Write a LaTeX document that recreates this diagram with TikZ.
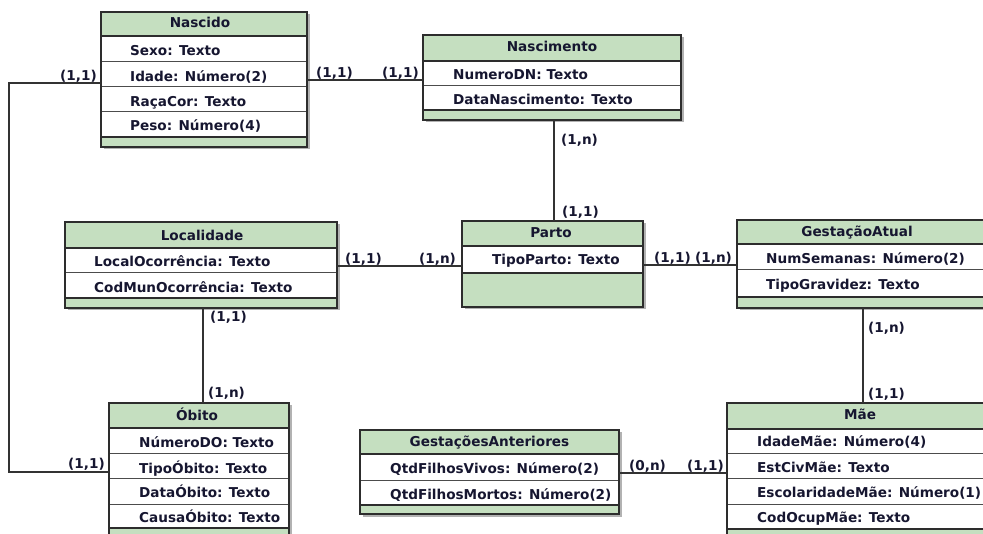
\documentclass[tikz,border=0pt]{standalone}
\usepackage{fontspec}
\setmainfont{DejaVu Sans}
\usetikzlibrary{shadows}
\definecolor{hdrgreen}{RGB}{197,223,192}
\definecolor{bordc}{RGB}{45,45,45}
\definecolor{txtc}{RGB}{22,22,48}
\definecolor{linec}{RGB}{50,50,50}
\newcommand\erbox[8]{%
  \node[entbg, anchor=north west, minimum width={#3-#2}, minimum height={#5-#4}] (#1) at (#2,#4) {};
  \fill[white] (#2,#6) rectangle (#3,#7);
  \foreach \yy in {#8} {\draw[septhin] (#2,\yy) -- (#3,\yy);}
  \draw[septhick] (#2,#6) -- (#3,#6);
  \draw[septhick] (#2,#7) -- (#3,#7);
  \draw[bord] (#1.north west) rectangle (#1.south east);
}
\begin{document}
\begin{tikzpicture}[x=1pt,y=-1pt,
  font=\fontsize{13.6}{16}\selectfont\bfseries,
  entbg/.style={fill=hdrgreen, draw=none, inner sep=0pt, outer sep=0pt,
    drop shadow={shadow xshift=2.5pt, shadow yshift=-2.5pt, fill=black, opacity=0.3}},
  bord/.style={draw=bordc, line width=1.4pt},
  septhick/.style={draw=bordc, line width=2.2pt},
  septhin/.style={draw=bordc!85, line width=1pt},
  hdrtext/.style={anchor=base, text=txtc, inner sep=0pt},
  attr/.style={anchor=base west, text=txtc, inner sep=0pt},
  card/.style={anchor=base west, text=txtc, inner sep=0pt},
  conn/.style={draw=linec, line width=1.1pt}]
\clip (0,0) rectangle (983,534);
\fill[white] (0,0) rectangle (983,534);

% Nascido
\erbox{nascido}{101}{307}{12}{147}{36}{137}{62,87,112}
\node[hdrtext] (nascido-h) at (200,28) {Nascido};
\node[attr] (nascido-1) at (130,56) {Sexo: Texto};
\node[attr] (nascido-2) at (130,82) {Idade: Número(2)};
\node[attr] (nascido-3) at (130,106.5) {RaçaCor: Texto};
\node[attr] (nascido-4) at (130,131) {Peso: Número(4)};

% Nascimento
\erbox{nascimento}{423}{681}{35}{120}{61}{110}{86}
\node[hdrtext] (nascimento-h) at (552,52) {Nascimento};
\node[attr] (nascimento-1) at (453,79.5) {NumeroDN: Texto};
\node[attr] (nascimento-2) at (453,104.5) {DataNascimento: Texto};

% Localidade
\erbox{localidade}{65}{337}{222}{308}{248}{298}{273}
\node[hdrtext] (localidade-h) at (202,241) {Localidade};
\node[attr] (localidade-1) at (94,267) {LocalOcorrência: Texto};
\node[attr] (localidade-2) at (94,292.5) {CodMunOcorrência: Texto};

% Parto
\erbox{parto}{462}{643}{221}{307}{246}{273}{246}
\node[hdrtext] (parto-h) at (551,238) {Parto};
\node[attr] (parto-1) at (492,265) {TipoParto: Texto};

% GestacaoAtual
\erbox{gestatual}{737}{988}{220}{308}{244}{297}{270}
\node[hdrtext] (gestatual-h) at (857,237) {GestaçãoAtual};
\node[attr] (gestatual-1) at (766,264) {NumSemanas: Número(2)};
\node[attr] (gestatual-2) at (766,290) {TipoGravidez: Texto};

% Obito
\erbox{obito}{109}{289}{403}{545}{428}{528}{454,479,504}
\node[hdrtext] (obito-h) at (197,421) {Óbito};
\node[attr] (obito-1) at (139,448) {NúmeroDO: Texto};
\node[attr] (obito-2) at (139,473.5) {TipoÓbito: Texto};
\node[attr] (obito-3) at (139,497.5) {DataÓbito: Texto};
\node[attr] (obito-4) at (139,522.5) {CausaÓbito: Texto};

% GestacoesAnteriores
\erbox{gestant}{360}{619}{430}{514}{454}{505}{481}
\node[hdrtext] (gestant-h) at (489.5,446.5) {GestaçõesAnteriores};
\node[attr] (gestant-1) at (390,474) {QtdFilhosVivos: Número(2)};
\node[attr] (gestant-2) at (390,499.5) {QtdFilhosMortos: Número(2)};

% Mae
\erbox{mae}{727}{992}{403}{545}{429}{529}{454,479,504}
\node[hdrtext] (mae-h) at (860,420) {Mãe};
\node[attr] (mae-1) at (757,447) {IdadeMãe: Número(4)};
\node[attr] (mae-2) at (757,472.5) {EstCivMãe: Texto};
\node[attr] (mae-3) at (757,497) {EscolaridadeMãe: Número(1)};
\node[attr] (mae-4) at (757,522.5) {CodOcupMãe: Texto};

% connectors
\coordinate (a1) at (9,83);
\coordinate (a2) at (9,472);
\draw[conn] (nascido.west |- a1) -- (a1) -- (a2) -- (obito.west |- a2);
\coordinate (b) at (0,80);
\draw[conn] (nascido.east |- b) -- (nascimento.west |- b);
\coordinate (c) at (554,0);
\draw[conn] (nascimento.south -| c) -- (parto.north -| c);
\coordinate (d) at (0,266);
\draw[conn] (localidade.east |- d) -- (parto.west |- d);
\coordinate (e) at (0,265);
\draw[conn] (parto.east |- e) -- (gestatual.west |- e);
\coordinate (f) at (203,0);
\draw[conn] (localidade.south -| f) -- (obito.north -| f);
\coordinate (g) at (863,0);
\draw[conn] (gestatual.south -| g) -- (mae.north -| g);
\coordinate (h) at (0,473);
\draw[conn] (gestant.east |- h) -- (mae.west |- h);

% cardinalities
\node[card] (k1) at (60,81) {(1,1)};
\node[card] (k2) at (316,78) {(1,1)};
\node[card] (k3) at (382,78) {(1,1)};
\node[card] (k4) at (561,145) {(1,n)};
\node[card] (k5) at (562,217) {(1,1)};
\node[card] (k6) at (345,264) {(1,1)};
\node[card] (k7) at (419,264) {(1,n)};
\node[card] (k8) at (654,263) {(1,1)};
\node[card] (k9) at (695,263) {(1,n)};
\node[card] (k10) at (210,322) {(1,1)};
\node[card] (k11) at (208,398) {(1,n)};
\node[card] (k12) at (68,468) {(1,1)};
\node[card] (k13) at (868,333) {(1,n)};
\node[card] (k14) at (868,399) {(1,1)};
\node[card] (k15) at (629,471) {(0,n)};
\node[card] (k16) at (687,471) {(1,1)};
\end{tikzpicture}
\end{document}
